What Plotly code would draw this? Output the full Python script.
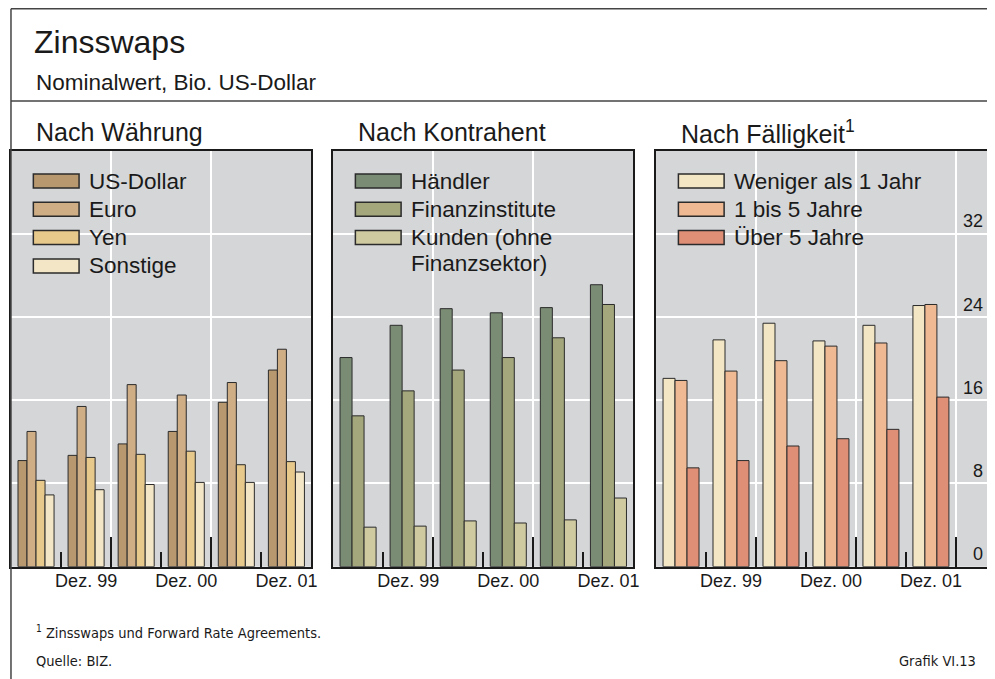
import plotly.graph_objects as go

# half-year periods, Jun. 99 ... Dez. 01
periods = ["Jun. 99", "Dez. 99", "Jun. 00", "Dez. 00", "Jun. 01", "Dez. 01"]
year_labels = ["Dez. 99", "Dez. 00", "Dez. 01"]
y_ticks = [0, 8, 16, 24, 32]

# Nach Währung
usd = [10.2, 10.7, 11.8, 13.0, 15.8, 18.9]
euro = [13.0, 15.4, 17.5, 16.5, 17.7, 20.9]
yen = [8.3, 10.5, 10.8, 11.1, 9.8, 10.1]
sonstige = [6.9, 7.4, 7.9, 8.1, 8.1, 9.1]

# Nach Kontrahent
haendler = [20.1, 23.2, 24.8, 24.4, 24.9, 27.1]
finanzinst = [14.5, 16.9, 18.9, 20.1, 22.0, 25.2]
kunden = [3.8, 3.9, 4.4, 4.2, 4.5, 6.6]

# Nach Fälligkeit
unter_1 = [18.1, 21.8, 23.4, 21.7, 23.2, 25.1]
bis_5 = [17.9, 18.8, 19.8, 21.2, 21.5, 25.2]
ueber_5 = [9.5, 10.2, 11.6, 12.3, 13.2, 16.3]

# the page body has an 8px margin, so the figure starts at (8, 8) on screen
OX, OY = 8, 8
W, H = 987, 671
SCREEN_W = 995
FONT = "Liberation Sans, Arial, Helvetica, sans-serif"
NARROW = "DejaVu Sans Condensed, Liberation Sans Narrow, sans-serif"
INK = "#1a1a1a"
BG = "#d5d6d8"


def px(x):
    return (x - OX) / W


def py(y):
    return 1 - (y - OY) / H


panels = [
    dict(
        title="Nach Währung",
        x0=11, x1=313.3, right_labels=False,
        series=[
            ("US-Dollar", usd, "#b8986f"),
            ("Euro", euro, "#cfad85"),
            ("Yen", yen, "#e8c98c"),
            ("Sonstige", sonstige, "#f2e6c6"),
        ],
    ),
    dict(
        title="Nach Kontrahent",
        x0=335, x1=637.3, right_labels=False,
        series=[
            ("Händler", haendler, "#7a8c74"),
            ("Finanzinstitute", finanzinst, "#a3a77b"),
            ("Kunden (ohne<br>Finanzsektor)", kunden, "#cfcaa0"),
        ],
    ),
    dict(
        title="Nach Fälligkeit<sup>1</sup>",
        x0=660, x1=961.7, right_labels=True,
        series=[
            ("Weniger als 1 Jahr", unter_1, "#f2e6c4"),
            ("1 bis 5 Jahre", bis_5, "#efb994"),
            ("Über 5 Jahre", ueber_5, "#e08f77"),
        ],
    ),
]

x = list(range(len(periods)))
major = [i + 0.5 for i in range(1, len(periods), 2)]
minor = [i + 0.5 for i in range(0, len(periods), 2)]

fig = go.Figure()
layout = {}
shapes = []
annotations = []

y_bottom, y_top = 566.7, 150.5

for k, p in enumerate(panels, start=1):
    xa = "x" if k == 1 else f"x{k}"
    ya = "y" if k == 1 else f"y{k}"
    for name, vals, color in p["series"]:
        fig.add_trace(go.Bar(
            x=x, y=vals, name=name.replace("<br>", " "),
            marker=dict(color=color, line=dict(color="#2b2b2b", width=1)),
            xaxis=xa, yaxis=ya, showlegend=False,
        ))

    unit = (p["x1"] - p["x0"]) / len(periods)
    right = SCREEN_W if p["right_labels"] else p["x1"]
    xmax = -0.5 + (right - p["x0"]) / unit

    layout["xaxis" if k == 1 else f"xaxis{k}"] = dict(
        domain=[px(p["x0"]), px(right)], range=[-0.5, xmax],
        anchor=ya, tickvals=major, ticktext=year_labels,
        ticks="inside", ticklen=30, tickwidth=1.5, tickcolor=INK,
        ticklabelshift=-int(round(unit / 2)), ticklabelstandoff=-3,
        tickfont=dict(size=18, color=INK),
        minor=dict(tickvals=minor, ticks="inside", ticklen=15,
                   tickwidth=1.5, tickcolor=INK, showgrid=False),
        showgrid=True, gridcolor="white", gridwidth=1.5,
        showline=True, linecolor=INK, linewidth=1.5, mirror=True,
        zeroline=False, fixedrange=True,
    )
    yax = dict(
        domain=[py(y_bottom), py(y_top)], range=[0, 40], anchor=xa,
        tickvals=y_ticks, showgrid=True, gridcolor="white", gridwidth=1.5,
        showline=True, linecolor=INK, linewidth=1.5, mirror=True,
        zeroline=False, ticks="", fixedrange=True,
        showticklabels=p["right_labels"],
    )
    if p["right_labels"]:
        yax.update(side="right", ticklabelposition="inside top",
                   tickfont=dict(size=18, color=INK), ticklabelstandoff=6)
    layout["yaxis" if k == 1 else f"yaxis{k}"] = yax

    # panel title
    annotations.append(dict(
        x=px(p["x0"] + 23), y=py(132), xref="paper", yref="paper",
        text=p["title"], showarrow=False, xanchor="left", yanchor="middle",
        font=dict(size=25, color=INK),
    ))

    # legend (swatch + label, wrapped labels on separate rows of 26px)
    row_y = 181
    for name, vals, color in p["series"]:
        sx = p["x0"] + 22.5
        shapes.append(dict(
            type="rect", xref="paper", yref="paper",
            x0=px(sx), x1=px(sx + 46), y0=py(row_y - 7), y1=py(row_y + 7),
            fillcolor=color, line=dict(color="#2b2b2b", width=1.5),
        ))
        for i, line in enumerate(name.split("<br>")):
            annotations.append(dict(
                x=px(sx + 54), y=py(row_y + 26 * i),
                xref="paper", yref="paper", text=line, showarrow=False,
                xanchor="left", yanchor="middle",
                font=dict(size=22.5, color=INK),
            ))
        row_y += 28.3

# outer frame and header divider
frame = dict(color="#444444", width=1.5)
shapes += [
    dict(type="line", xref="paper", yref="paper", x0=px(11), x1=1, y0=py(8.8), y1=py(8.8), line=frame),
    dict(type="line", xref="paper", yref="paper", x0=px(11), x1=px(11), y0=py(8.8), y1=0, line=frame),
    dict(type="line", xref="paper", yref="paper", x0=px(11), x1=1, y0=py(101), y1=py(101), line=frame),
]

annotations += [
    dict(x=px(32), y=py(42), text="Zinsswaps", font=dict(size=32, color=INK)),
    dict(x=px(34), y=py(82), text="Nominalwert, Bio. US-Dollar", font=dict(size=22.5, color=INK)),
    dict(x=px(34), y=py(632), text="<sup>1</sup> Zinsswaps und Forward Rate Agreements.",
         font=dict(size=14.5, color=INK, family=NARROW)),
    dict(x=px(34), y=py(661), text="Quelle: BIZ.", font=dict(size=14.5, color=INK, family=NARROW)),
    dict(x=px(984), y=py(661), text="Grafik VI.13", xanchor="right",
         font=dict(size=14.5, color=INK, family=NARROW)),
]
for a in annotations[-5:]:
    a.setdefault("xref", "paper")
    a.setdefault("yref", "paper")
    a.setdefault("showarrow", False)
    a.setdefault("xanchor", "left")
    a.setdefault("yanchor", "middle")

fig.update_layout(
    **layout,
    width=W, height=H,
    margin=dict(l=0, r=0, t=0, b=0),
    paper_bgcolor="white", plot_bgcolor=BG,
    font=dict(family=FONT, color=INK),
    barmode="group", bargap=0.28, bargroupgap=0,
    shapes=shapes, annotations=annotations,
    showlegend=False,
)

fig.write_html("out.html")
